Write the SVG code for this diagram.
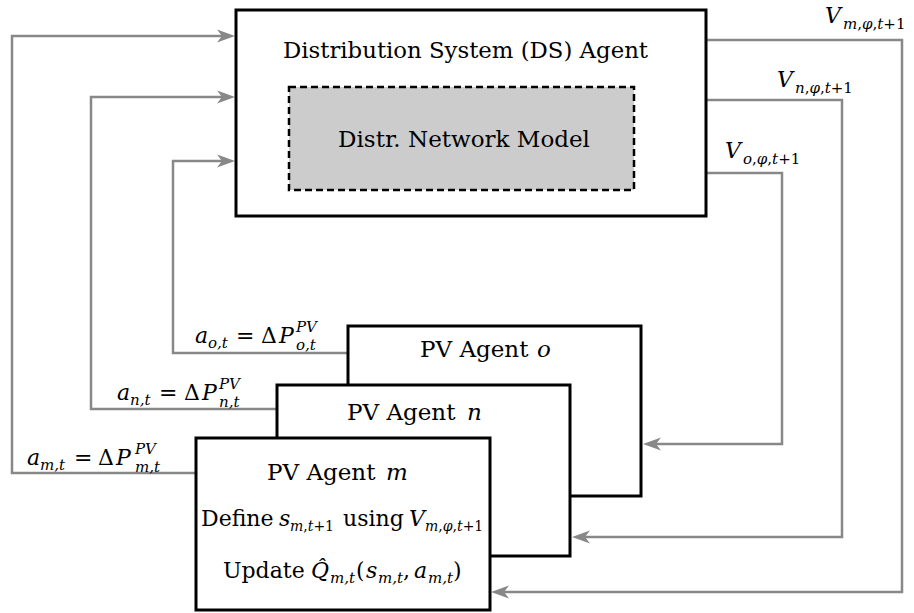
<svg xmlns="http://www.w3.org/2000/svg" width="914" height="613" viewBox="0 0 914 613">
<defs>
<style>
.t{font-size:22px;fill:#000}
.p{font-size:23px}
.i{font-style:italic}
.s{font-size:15px}
.s2{font-size:14px}
.box{fill:#fff;stroke:#000;stroke-width:3}
.inner{fill:#cccccc;stroke:#000;stroke-width:2.5;stroke-dasharray:7 4}
.c{fill:none;stroke:#888;stroke-width:2.5;marker-end:url(#ah)}
</style>
<marker id="ah" markerUnits="userSpaceOnUse" markerWidth="20" markerHeight="14" refX="6" refY="6.5" orient="auto" overflow="visible">
<path d="M0,0 L18,6.5 L0,13 L5,6.5 z" fill="#888"/>
</marker>
</defs>
<rect width="914" height="613" fill="#fff"/>
<g id="connectors">
<path class="c" d="M196,473 H12 V36 H223"/>
<path class="c" d="M277,409 H91 V97 H223"/>
<path class="c" d="M348,353 H173 V161 H223"/>
<path class="c" d="M706,40 H902 V592 H503"/>
<path class="c" d="M706,100 H842 V537 H584"/>
<path class="c" d="M706,173 H782 V444 H655"/>
</g>
<g font-family="DejaVu Serif, serif">
<g id="ds-agent">
<rect class="box" x="236" y="10" width="470" height="206"/>
<text class="t" x="283" y="58" font-size="24" textLength="365" lengthAdjust="spacingAndGlyphs">Distribution System (DS) Agent</text>
</g>
<g id="network-model">
<rect class="inner" x="289" y="87" width="345" height="103"/>
<text class="t" x="338" y="147" font-size="24" textLength="252" lengthAdjust="spacingAndGlyphs">Distr. Network Model</text>
</g>
<g id="pv-o">
<rect class="box" x="348" y="326" width="293" height="170"/>
<text class="t p" y="357"><tspan x="420">PV Agent</tspan><tspan x="537" class="i">o</tspan></text>
</g>
<g id="pv-n">
<rect class="box" x="277" y="385" width="293" height="171"/>
<text class="t p" y="420"><tspan x="347">PV Agent</tspan><tspan x="467" class="i">n</tspan></text>
</g>
<g id="pv-m">
<rect class="box" x="196" y="438" width="294" height="172"/>
<text class="t p" y="480"><tspan x="267">PV Agent</tspan><tspan x="386" class="i">m</tspan></text>
<text class="t" y="526"><tspan x="201">Define</tspan><tspan x="279" class="i">s</tspan><tspan x="290" y="531" class="s2"><tspan class="i">m</tspan>,<tspan class="i">t</tspan>+1</tspan><tspan x="343" y="526">using</tspan><tspan x="409" class="i">V</tspan><tspan x="425" y="531" class="s2"><tspan class="i">m</tspan>,<tspan class="i">φ</tspan>,<tspan class="i">t</tspan>+1</tspan></text>
<text class="t" y="578"><tspan x="223">Update</tspan><tspan x="311" class="i">Q̂</tspan><tspan x="330" y="583" class="s i">m,t</tspan><tspan x="356" y="578">(</tspan><tspan x="366" class="i">s</tspan><tspan x="378" y="583" class="s i">m,t</tspan><tspan x="403" y="578">,</tspan><tspan x="414" class="i">a</tspan><tspan x="428" y="583" class="s i">m,t</tspan><tspan x="453" y="578">)</tspan></text>
</g>
<g id="labels">
<text class="t" y="23"><tspan x="825" class="i">V</tspan><tspan x="843" y="29" class="s"><tspan class="i">m</tspan>,<tspan class="i">φ</tspan>,<tspan class="i">t</tspan>+1</tspan></text>
<text class="t" y="87"><tspan x="777" class="i">V</tspan><tspan x="795" y="93" class="s"><tspan class="i">n</tspan>,<tspan class="i">φ</tspan>,<tspan class="i">t</tspan>+1</tspan></text>
<text class="t" y="158"><tspan x="725" class="i">V</tspan><tspan x="743" y="164" class="s"><tspan class="i">o</tspan>,<tspan class="i">φ</tspan>,<tspan class="i">t</tspan>+1</tspan></text>
<text class="t" y="343"><tspan x="195" class="i">a</tspan><tspan x="208" y="348" class="s i">o,t</tspan><tspan x="236" y="343">=</tspan><tspan x="261">Δ</tspan><tspan x="279" class="i">P</tspan><tspan x="296" y="332" class="s i">PV</tspan><tspan x="296" y="350" class="s i">o,t</tspan></text>
<text class="t" y="400"><tspan x="117" class="i">a</tspan><tspan x="130" y="405" class="s i">n,t</tspan><tspan x="159" y="400">=</tspan><tspan x="184">Δ</tspan><tspan x="202" class="i">P</tspan><tspan x="219" y="389" class="s i">PV</tspan><tspan x="219" y="407" class="s i">n,t</tspan></text>
<text class="t" y="465"><tspan x="27" class="i">a</tspan><tspan x="40" y="470" class="s i">m,t</tspan><tspan x="74" y="465">=</tspan><tspan x="98">Δ</tspan><tspan x="116" class="i">P</tspan><tspan x="135" y="454" class="s i">PV</tspan><tspan x="135" y="472" class="s i">m,t</tspan></text>
</g>
</g>
</svg>
